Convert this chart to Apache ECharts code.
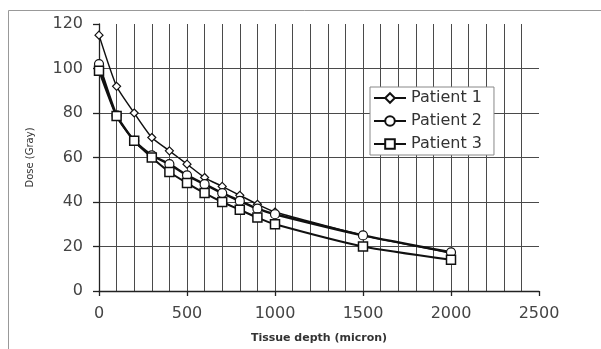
<!DOCTYPE html>
<html>
<head>
<meta charset="utf-8">
<script src="https://cdn.jsdelivr.net/npm/echarts@6/dist/echarts.min.js"></script>
<style>
html,body{margin:0;padding:0;background:#fff;}
#c{width:601px;height:349px;}
</style>
</head>
<body>
<div id="c"></div>
<script>
var depth = [0, 100, 200, 300, 400, 500, 600, 700, 800, 900, 1000, 1500, 2000];
var patient1 = [115, 92, 80, 69, 63, 57, 51, 47, 43, 39, 35.5, 25, 17];
var patient2 = [102, 79, 67.5, 61, 57, 52, 48, 44, 40.5, 37, 34.5, 25, 17.4];
var patient3 = [99, 78.6, 67.5, 60, 53.5, 48.5, 44, 40, 36.5, 33, 30, 20, 14];
var seriesNames = ['Patient 1', 'Patient 2', 'Patient 3'];
var xTitle = 'Tissue depth (micron)';
var yTitle = 'Dose (Gray)';

function pairs(ys){ return depth.map(function(x,i){ return [x, ys[i]]; }); }

var chart = echarts.init(document.getElementById('c'), null, {renderer:'canvas'});
var font = 'DejaVu Sans';
chart.setOption({
  animation:false,
  backgroundColor:'#fff',
  graphic:[{type:'polyline', shape:{points:[[8.5,349],[8.5,10.5],[601,10.5]]}, style:{fill:'none', stroke:'#999', lineWidth:1}, silent:true}],
  grid:{left:99, right:62, top:24, bottom:56, containLabel:false},
  legend:{
    orient:'vertical', left:370, top:87, width:127,
    backgroundColor:'#fff', borderColor:'#888', borderWidth:1, borderRadius:0,
    padding:[3,12,3,3], itemWidth:32, itemHeight:12, itemGap:7,
    textStyle:{fontFamily:font, fontSize:16, color:'#333', lineHeight:16},
    data:seriesNames
  },
  xAxis:{
    type:'value', min:0, max:2500, interval:500,
    axisLine:{show:true, onZero:false, lineStyle:{color:'#222', width:1.3}},
    axisTick:{show:true, inside:false, length:5, lineStyle:{color:'#222', width:1.3}},
    axisLabel:{fontFamily:font, fontSize:16, color:'#444', margin:15, formatter:function(v){ return String(v); }},
    splitLine:{show:true, showMinLine:false, showMaxLine:false, lineStyle:{color:'#4a4a4a', width:1}},
    minorTick:{show:false, splitNumber:5},
    minorSplitLine:{show:true, lineStyle:{color:'#4a4a4a', width:1}},
    name:xTitle, nameLocation:'middle', nameGap:42,
    nameTextStyle:{fontFamily:font, fontSize:11, fontWeight:'bold', color:'#333'}
  },
  yAxis:{
    type:'value', min:0, max:120, interval:20,
    axisLine:{show:true, onZero:false, lineStyle:{color:'#222', width:1.3}},
    axisTick:{show:true, inside:false, length:6, lineStyle:{color:'#222', width:1.3}},
    axisLabel:{fontFamily:font, fontSize:16, color:'#444', margin:16},
    splitLine:{show:true, showMinLine:false, showMaxLine:false, lineStyle:{color:'#4a4a4a', width:1}},
    name:yTitle, nameLocation:'middle', nameGap:64, nameRotate:90,
    nameTextStyle:{fontFamily:font, fontSize:10, color:'#333'}
  },
  series:[
    {name:seriesNames[0], type:'line', data:pairs(patient1), smooth:0.2,
     symbol:'diamond', symbolSize:8, showAllSymbol:true,
     lineStyle:{color:'#111', width:1.5},
     itemStyle:{color:'#fff', borderColor:'#111', borderWidth:1.2}, z:3},
    {name:seriesNames[1], type:'line', data:pairs(patient2), smooth:0.2,
     symbol:'circle', symbolSize:9, showAllSymbol:true,
     lineStyle:{color:'#111', width:2.5},
     itemStyle:{color:'#fff', borderColor:'#111', borderWidth:1.2}, z:4},
    {name:seriesNames[2], type:'line', data:pairs(patient3), smooth:0.2,
     symbol:'rect', symbolSize:9, showAllSymbol:true,
     lineStyle:{color:'#111', width:2},
     itemStyle:{color:'#fff', borderColor:'#111', borderWidth:1.5}, z:5}
  ]
});
</script>
</body>
</html>
